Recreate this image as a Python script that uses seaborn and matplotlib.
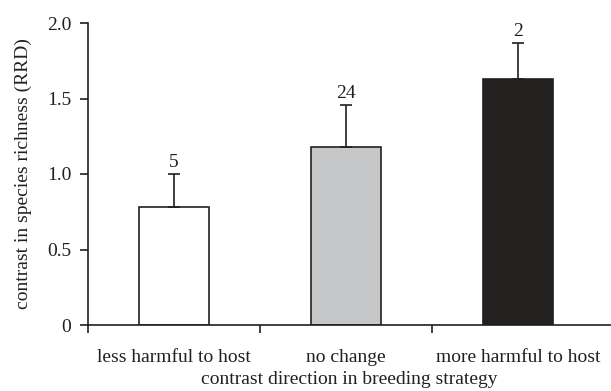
import matplotlib
matplotlib.use("Agg")
import matplotlib.pyplot as plt
import seaborn as sns
import pandas as pd
import numpy as np

categories = ["less harmful to host", "no change", "more harmful to host"]
means = [0.78, 1.18, 1.63]
upper_err = [0.22, 0.28, 0.24]
sample_sizes = ["5", "24", "2"]
bar_colors = ["#ffffff", "#c6c7c8", "#231f20"]

sns.set_theme(style="white")
plt.rcParams["font.family"] = ["Liberation Serif", "DejaVu Serif"]
ink = "#231f20"
fs = 14

df = pd.DataFrame({"direction": categories, "rrd": means})

fig = plt.figure(figsize=(6.11, 3.91), dpi=100)
ax = fig.add_axes([88 / 611, 1 - 325 / 391, 523 / 611, (325 - 23) / 391])

sns.barplot(data=df, x="direction", y="rrd", hue="direction", palette=bar_colors,
            order=categories, hue_order=categories, legend=False, width=0.41,
            edgecolor=ink, linewidth=1.2, errorbar=None, ax=ax)

xs = np.arange(len(categories))
ax.errorbar(xs, means, yerr=[np.zeros(len(means)), upper_err], fmt="none",
            ecolor=ink, elinewidth=1.2, capsize=4, capthick=1.2, zorder=1)
for x, m, e, n in zip(xs, means, upper_err, sample_sizes):
    ax.text(x, m + e + 0.02, n, ha="center", va="bottom", fontsize=fs, color=ink)

ax.set_xlim(-0.5, 2.54)
ax.set_ylim(0, 2.0)
ax.set_yticks([0, 0.5, 1.0, 1.5, 2.0])
ax.set_yticklabels(["0", "0.5", "1.0", "1.5", "2.0"])
ax.set_xticks(xs)
ax.set_xticklabels(categories)
ax.set_xticks([-0.5, 0.5, 1.5], minor=True)
ax.tick_params(axis="x", which="major", length=0, pad=17, labelsize=fs, labelcolor=ink)
ax.tick_params(axis="x", which="minor", length=6, width=1.2, color=ink, direction="out", bottom=True)
ax.tick_params(axis="y", length=6, width=1.2, color=ink, direction="out", left=True,
               labelsize=fs, labelcolor=ink, pad=6)

for s in ["top", "right"]:
    ax.spines[s].set_visible(False)
for s in ["left", "bottom"]:
    ax.spines[s].set_color(ink)
    ax.spines[s].set_linewidth(1.2)

ax.set_xlabel("contrast direction in breeding strategy", fontsize=fs, color=ink, labelpad=4)
ax.set_ylabel("contrast in species richness (RRD)", fontsize=fs, color=ink, labelpad=11)

fig.savefig("out.png", dpi=100)
